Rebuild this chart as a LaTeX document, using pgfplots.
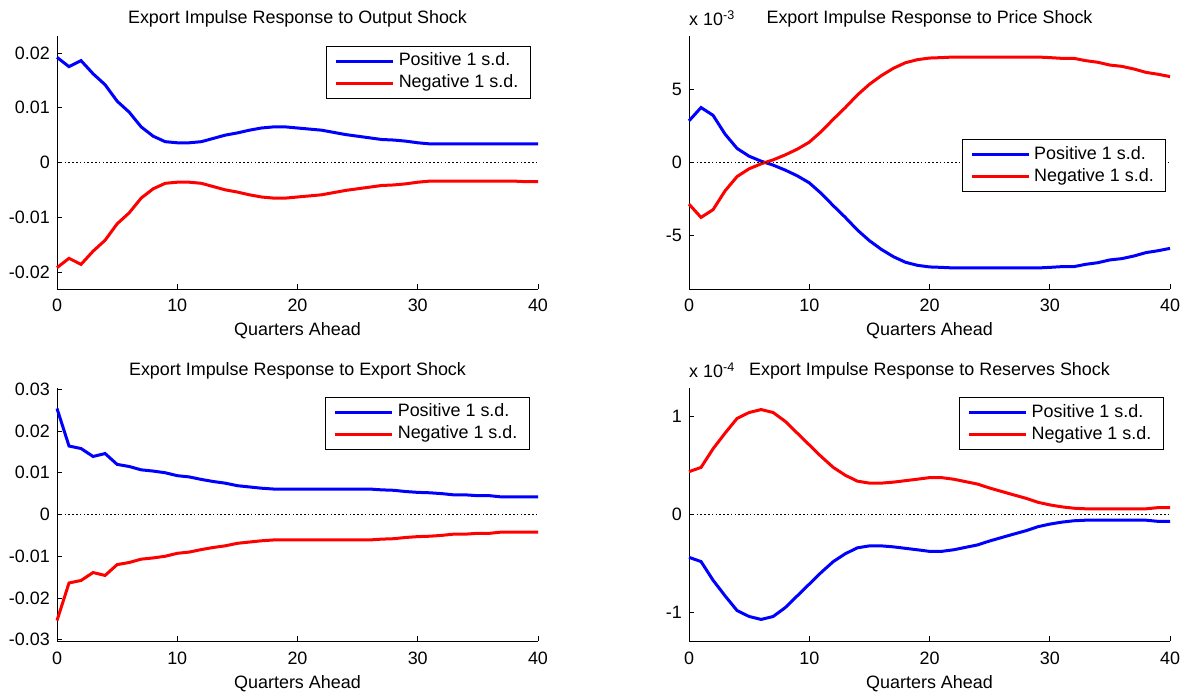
\documentclass[border=0pt]{standalone}
\usepackage{fontspec}
\setmainfont{Liberation Sans}
\usepackage{pgfplots}
\usepackage{pgfplotstable}
\pgfplotsset{compat=1.18}
\newcommand\mf{\fontsize{18}{21.6}\selectfont}

\pgfplotstableread{
x pos neg
0 0.0192 -0.0192
1 0.0175 -0.0175
2 0.0186 -0.0186
3 0.0162 -0.0162
4 0.0142 -0.0142
5 0.0112 -0.0112
6 0.0092 -0.0092
7 0.0065 -0.0065
8 0.0048 -0.0048
9 0.0038 -0.0038
10 0.0036 -0.0036
11 0.0036 -0.0036
12 0.0038 -0.0038
13 0.0044 -0.0044
14 0.0050 -0.0050
15 0.0054 -0.0054
16 0.0059 -0.0059
17 0.0063 -0.0063
18 0.0065 -0.0065
19 0.0065 -0.0065
20 0.0063 -0.0063
21 0.0061 -0.0061
22 0.0059 -0.0059
23 0.0055 -0.0055
24 0.0051 -0.0051
25 0.0048 -0.0048
26 0.0045 -0.0045
27 0.0042 -0.0042
28 0.0041 -0.0041
29 0.0039 -0.0039
30 0.0036 -0.0036
31 0.0034 -0.0034
32 0.0034 -0.0034
33 0.0034 -0.0034
34 0.0034 -0.0034
35 0.0034 -0.0034
36 0.0034 -0.0034
37 0.0034 -0.0034
38 0.0034 -0.0034
39 0.0034 -0.0035
40 0.0034 -0.0035
}\outputtab

\pgfplotstableread{
x pos neg
0 2.85 -2.85
1 3.76 -3.76
2 3.23 -3.23
3 1.94 -1.94
4 0.96 -0.96
5 0.43 -0.43
6 0.09 -0.09
7 -0.18 0.18
8 -0.52 0.52
9 -0.91 0.91
10 -1.39 1.39
11 -2.12 2.12
12 -2.96 2.96
13 -3.76 3.76
14 -4.62 4.62
15 -5.35 5.35
16 -5.95 5.95
17 -6.45 6.45
18 -6.83 6.83
19 -7.04 7.04
20 -7.15 7.15
21 -7.18 7.18
22 -7.22 7.22
23 -7.22 7.22
24 -7.22 7.22
25 -7.22 7.22
26 -7.22 7.22
27 -7.22 7.22
28 -7.22 7.22
29 -7.22 7.22
30 -7.18 7.18
31 -7.13 7.13
32 -7.13 7.13
33 -6.97 6.97
34 -6.86 6.86
35 -6.67 6.67
36 -6.58 6.58
37 -6.40 6.40
38 -6.17 6.17
39 -6.04 6.04
40 -5.88 5.88
}\pricetab

\pgfplotstableread{
x pos neg
0 0.0254 -0.0254
1 0.0164 -0.0164
2 0.0158 -0.0158
3 0.0139 -0.0139
4 0.0146 -0.0146
5 0.0120 -0.0120
6 0.0115 -0.0115
7 0.0107 -0.0107
8 0.0104 -0.0104
9 0.0100 -0.0100
10 0.0093 -0.0093
11 0.0090 -0.0090
12 0.0084 -0.0084
13 0.0079 -0.0079
14 0.0075 -0.0075
15 0.0069 -0.0069
16 0.0066 -0.0066
17 0.0063 -0.0063
18 0.0061 -0.0061
19 0.0061 -0.0061
20 0.0061 -0.0061
21 0.0061 -0.0061
22 0.0061 -0.0061
23 0.0061 -0.0061
24 0.0061 -0.0061
25 0.0061 -0.0061
26 0.0061 -0.0061
27 0.0059 -0.0059
28 0.0058 -0.0058
29 0.0055 -0.0055
30 0.0053 -0.0053
31 0.0052 -0.0052
32 0.0050 -0.0050
33 0.0047 -0.0047
34 0.0047 -0.0047
35 0.0045 -0.0045
36 0.0045 -0.0045
37 0.0042 -0.0042
38 0.0042 -0.0042
39 0.0042 -0.0042
40 0.0042 -0.0042
}\exporttab

\pgfplotstableread{
x pos neg
0 -0.437 0.437
1 -0.48 0.48
2 -0.67 0.67
3 -0.83 0.83
4 -0.98 0.98
5 -1.04 1.04
6 -1.07 1.07
7 -1.04 1.04
8 -0.95 0.95
9 -0.83 0.83
10 -0.71 0.71
11 -0.59 0.59
12 -0.48 0.48
13 -0.40 0.40
14 -0.34 0.34
15 -0.32 0.32
16 -0.32 0.32
17 -0.33 0.33
18 -0.345 0.345
19 -0.36 0.36
20 -0.376 0.376
21 -0.376 0.376
22 -0.36 0.36
23 -0.335 0.335
24 -0.31 0.31
25 -0.27 0.27
26 -0.235 0.235
27 -0.20 0.20
28 -0.166 0.166
29 -0.125 0.125
30 -0.098 0.098
31 -0.078 0.078
32 -0.064 0.064
33 -0.058 0.058
34 -0.058 0.058
35 -0.058 0.058
36 -0.058 0.058
37 -0.058 0.058
38 -0.058 0.058
39 -0.07 0.07
40 -0.07 0.07
}\reservetab

\pgfplotsset{
  irf/.style={
    scale only axis, width=481bp, height=253bp,
    xmin=0, xmax=40, xtick={0,10,20,30,40},
    xticklabels={0,10,20,30,40},
    scaled ticks=false,
    axis lines=left,
    axis line style={-, line width=0.8bp, black},
    tick align=inside, major tick length=5bp,
    tick style={black, line width=0.8bp},
    every tick label/.append style={font=\mf, inner sep=0pt},
    xticklabel style={anchor=base, yshift=-23bp},
    yticklabel style={anchor=east, xshift=-7bp},
    xlabel={Quarters Ahead},
    xlabel style={font=\mf, at={(rel axis cs:0.5,0)}, anchor=base, yshift=-47bp, inner sep=0pt},
    title style={font=\mf, at={(rel axis cs:0.5,1)}, anchor=base, yshift=7bp, inner sep=0pt},
    legend style={font=\mf, draw=black, line width=0.8bp, fill=white,
      inner xsep=8bp, inner ysep=6.5bp, row sep=5bp,
      legend cell align=left,
      nodes={inner xsep=4bp, inner ysep=0pt, text height=13bp, text depth=4bp}},
    legend image code/.code={\draw[#1] (0bp,0bp) -- (57bp,0bp);},
    clip=false,
  },
  pos/.style={blue, line width=3bp},
  neg/.style={red, line width=3bp},
  zero/.style={black, line width=1.6bp, dash pattern=on 1.6bp off 2.2bp, forget plot},
}

\begin{document}
\begin{tikzpicture}
\path[use as bounding box] (0bp,0bp) rectangle (1196bp,698bp);

% Panel 1
\begin{axis}[irf, at={(57bp,409bp)}, anchor=south west,
  ymin=-0.0231, ymax=0.0231,
  ytick={-0.02,-0.01,0,0.01,0.02},
  yticklabels={-0.02,-0.01,0,0.01,0.02},
  title={Export Impulse Response to Output Shock},
  legend style={at={(rel axis cs:0.985,0.961)}, anchor=north east}]
\addplot[pos] table[x=x,y=pos] {\outputtab};
\addplot[neg] table[x=x,y=neg] {\outputtab};
\addplot[zero] coordinates {(0,0) (40,0)};
\legend{Positive 1 s.d., Negative 1 s.d.}
\end{axis}

% Panel 2
\begin{axis}[irf, at={(689bp,409bp)}, anchor=south west,
  ymin=-8.66, ymax=8.66,
  ytick={-5,0,5},
  yticklabels={-5,0,5},
  title={Export Impulse Response to Price Shock},
  legend style={at={(rel axis cs:0.992,0.488)}, anchor=east}]
\addplot[pos] table[x=x,y=pos] {\pricetab};
\addplot[neg] table[x=x,y=neg] {\pricetab};
\addplot[zero] coordinates {(0,0) (40,0)};
\legend{Positive 1 s.d., Negative 1 s.d.}
\node[font=\mf, anchor=base west, inner sep=0pt] at (rel axis cs:0,1) [yshift=10bp] {x 10\textsuperscript{-3}};
\end{axis}

% Panel 3
\begin{axis}[irf, at={(57bp,57bp)}, anchor=south west,
  ymin=-0.0303, ymax=0.0303,
  ytick={-0.03,-0.02,-0.01,0,0.01,0.02,0.03},
  yticklabels={-0.03,-0.02,-0.01,0,0.01,0.02,0.03},
  title={Export Impulse Response to Export Shock},
  legend style={at={(rel axis cs:0.983,0.966)}, anchor=north east}]
\addplot[pos] table[x=x,y=pos] {\exporttab};
\addplot[neg] table[x=x,y=neg] {\exporttab};
\addplot[zero] coordinates {(0,0) (40,0)};
\legend{Positive 1 s.d., Negative 1 s.d.}
\end{axis}

% Panel 4
\begin{axis}[irf, at={(689bp,57bp)}, anchor=south west,
  ymin=-1.29, ymax=1.29,
  ytick={-1,0,1},
  yticklabels={-1,0,1},
  title={Export Impulse Response to Reserves Shock},
  legend style={at={(rel axis cs:0.987,0.964)}, anchor=north east}]
\addplot[pos] table[x=x,y=pos] {\reservetab};
\addplot[neg] table[x=x,y=neg] {\reservetab};
\addplot[zero] coordinates {(0,0) (40,0)};
\legend{Positive 1 s.d., Negative 1 s.d.}
\node[font=\mf, anchor=base west, inner sep=0pt] at (rel axis cs:0,1) [yshift=10bp] {x 10\textsuperscript{-4}};
\end{axis}
\end{tikzpicture}
\end{document}
